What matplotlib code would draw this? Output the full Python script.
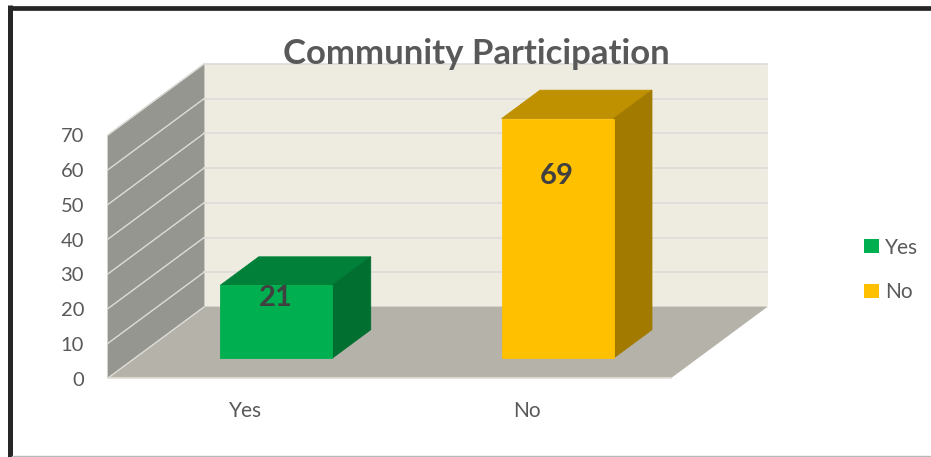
import matplotlib
matplotlib.use('Agg')
import matplotlib.pyplot as plt
from matplotlib.patches import Patch, Polygon, Rectangle

plt.rcParams['font.family'] = ['Lato', 'DejaVu Sans']

categories = ['Yes', 'No']
values = [21, 69]
y_ticks = [0, 10, 20, 30, 40, 50, 60, 70]
title = 'Community Participation'

Y_MAX = 70
X0, Y0 = 108, 378       # front corner of the floor, in pixels
PLOT_W = 562.5          # floor width for all categories
PLOT_H = 243            # height of the value axis
DEPTH_X, DEPTH_Y = 96, -71

BAR_W = 0.398
BAR_D0, BAR_D1 = 0.28, 0.68

WALL = '#eeece1'
SIDE = '#969690'
FLOOR = '#b5b2aa'
TEXT = '#595959'

bar_colors = [('#00b050', '#008038', '#006f30'), ('#ffc000', '#bf9000', '#a27a00')]


def project(cat, val, depth):
    # oblique projection of (category position, value, depth) to pixels
    x = X0 + PLOT_W * cat / len(categories) + DEPTH_X * depth
    y = Y0 - PLOT_H * val / Y_MAX + DEPTH_Y * depth
    return x, y


def face(ax, corners, color, zorder):
    pts = [project(*c) for c in corners]
    ax.add_patch(Polygon(pts, closed=True, facecolor=color, edgecolor=color, linewidth=0.6,
                         zorder=zorder))


fig = plt.figure(figsize=(9.31, 4.57), dpi=100)
ax = fig.add_axes([0, 0, 1, 1])
ax.set_xlim(0, 931)
ax.set_ylim(457, 0)
ax.axis('off')

# outer frame
ax.add_patch(Rectangle((7, 5), 930, 451, facecolor='white', edgecolor='none', zorder=0))
ax.plot([9.8, 9.8], [5, 457], color='#262626', lw=3.6, solid_capstyle='butt', zorder=5)
ax.plot([8, 931], [7.6, 7.6], color='#262626', lw=3.4, solid_capstyle='butt', zorder=5)
ax.plot([12, 931], [456, 456], color='#b8b8b8', lw=1, zorder=5)

n = len(categories)
# walls and floor
face(ax, [(0, 0, 1), (n, 0, 1), (n, Y_MAX, 1), (0, Y_MAX, 1)], WALL, 1)
face(ax, [(0, 0, 0), (0, 0, 1), (0, Y_MAX, 1), (0, Y_MAX, 0)], SIDE, 1)
face(ax, [(0, 0, 0), (n, 0, 0), (n, 0, 1), (0, 0, 1)], FLOOR, 1)

# gridlines on the back and side walls
for t in y_ticks:
    xb0, yb0 = project(0, t, 1)
    xb1, yb1 = project(n, t, 1)
    xf, yf = project(0, t, 0)
    if t > 0:
        ax.plot([xb0, xb1], [yb0, yb1], color='#dcdcda', lw=1.2, zorder=1.5)
    ax.plot([xf, xb0], [yf, yb0], color='#dedcd8', lw=1.0, zorder=1.5)
    ax.text(84, yf + 2, str(t), ha='right', va='center', fontsize=14.5, color=TEXT, zorder=6)
ax.plot(*zip(project(0, 0, 0), project(n, 0, 0)), color='#e4e2dc', lw=1.2, zorder=1.5)

# bars
label_drop = [3.8, 16.6]
for i, (val, colors) in enumerate(zip(values, bar_colors)):
    front, top, side = colors
    c0 = i + 0.503 - BAR_W / 2
    c1 = i + 0.503 + BAR_W / 2
    face(ax, [(c0, val, BAR_D0), (c1, val, BAR_D0), (c1, val, BAR_D1), (c0, val, BAR_D1)], top, 2)
    face(ax, [(c1, 0, BAR_D0), (c1, 0, BAR_D1), (c1, val, BAR_D1), (c1, val, BAR_D0)], side, 2)
    face(ax, [(c0, 0, BAR_D0), (c1, 0, BAR_D0), (c1, val, BAR_D0), (c0, val, BAR_D0)], front, 2)
    lx, ly = project(i + 0.5, val - label_drop[i], BAR_D0)
    ax.text(lx, ly, str(val), ha='center', va='center', fontsize=21, fontweight='bold',
            color='#404040', zorder=6)
    tx, _ = project(i + 0.5, 0, 0)
    ax.text(tx - 3, 411, categories[i], ha='center', va='center', fontsize=15, color=TEXT, zorder=6)

ax.text(476, 54, title, ha='center', va='center', fontsize=25, fontweight='bold', color=TEXT, zorder=6)

handles = [Patch(facecolor=colors[0], label=cat) for cat, colors in zip(categories, bar_colors)]
ax.legend(handles=handles, loc='center left', bbox_to_anchor=(856, 270),
          bbox_transform=ax.transData, frameon=False, fontsize=15, labelcolor=TEXT,
          handlelength=0.68, handleheight=0.68, handletextpad=0.3, labelspacing=1.19,
          borderpad=0, borderaxespad=0.4)

fig.savefig('out.png', dpi=100)
